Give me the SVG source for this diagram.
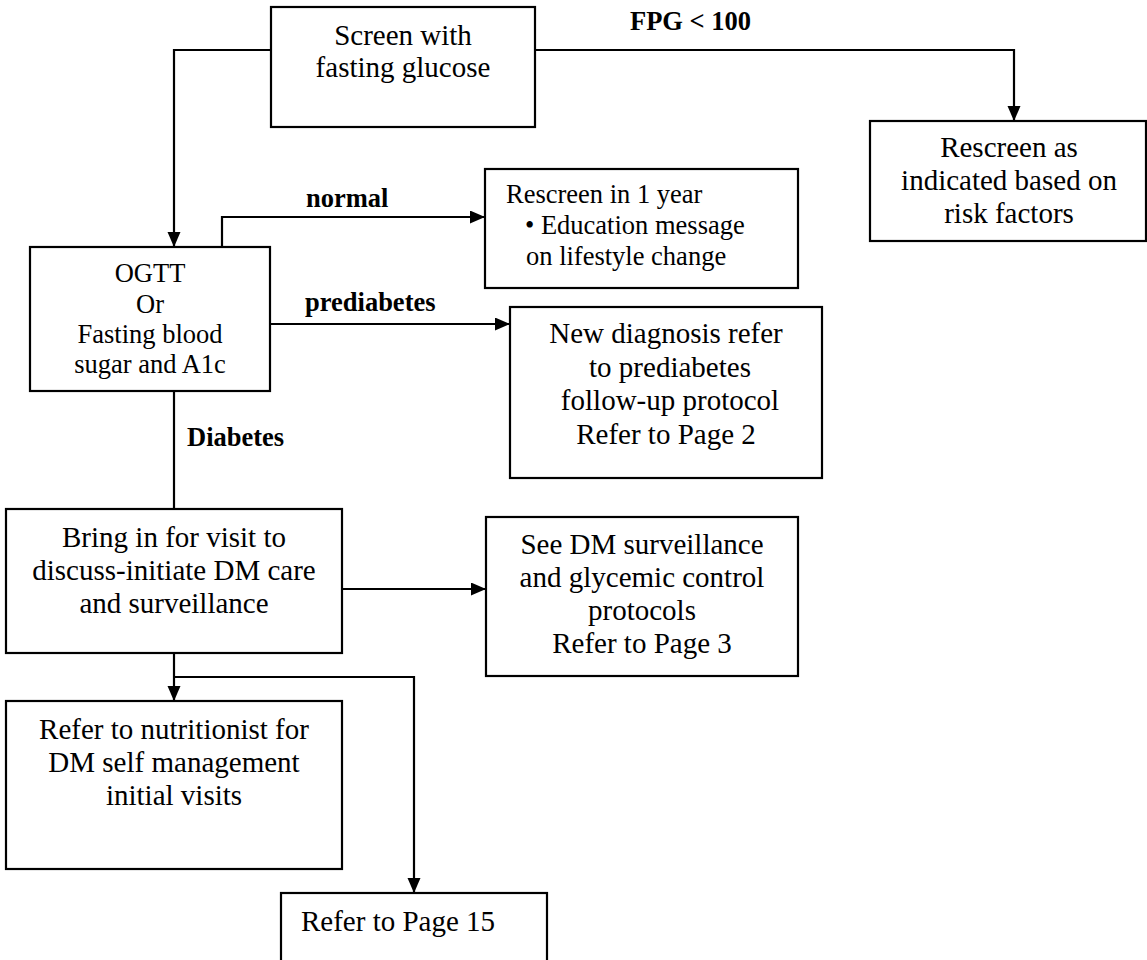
<svg xmlns="http://www.w3.org/2000/svg" width="1147" height="960" viewBox="0 0 1147 960">
  <style>
    .box { fill: #fff; stroke: #000; stroke-width: 2.2; }
    .t { font-family: "Liberation Serif", "Times New Roman", serif; font-size: 29px; fill: #000; text-anchor: middle; }
    .s { font-size: 26.5px; }
    .l { text-anchor: start; }
    .lbl { font-family: "Liberation Serif", "Times New Roman", serif; font-size: 26.5px; font-weight: bold; fill: #000; }
    .c { fill: none; stroke: #000; stroke-width: 2.2; }
  </style>
  <defs>
    <marker id="arrow" markerUnits="userSpaceOnUse" markerWidth="16" markerHeight="14" refX="15" refY="6.5" orient="auto">
      <path d="M0,0 L15,6.5 L0,13 z" fill="#000"/>
    </marker>
  </defs>

  <rect width="1147" height="960" fill="#fff"/>

  <!-- connectors -->
  <g id="connectors">
    <path class="c" d="M535,50 H1014 V121" marker-end="url(#arrow)"/>
    <path class="c" d="M271,50 H174 V247" marker-end="url(#arrow)"/>
    <path class="c" d="M222,247 V217 H485" marker-end="url(#arrow)"/>
    <path class="c" d="M270,324 H510" marker-end="url(#arrow)"/>
    <path class="c" d="M174,391 V509"/>
    <path class="c" d="M342,589 H486" marker-end="url(#arrow)"/>
    <path class="c" d="M174,653 V701" marker-end="url(#arrow)"/>
    <path class="c" d="M174,677 H414 V893" marker-end="url(#arrow)"/>
  </g>

  <!-- connector labels -->
  <g id="labels">
    <text class="lbl" x="630" y="30">FPG &lt; 100</text>
    <text class="lbl" x="306" y="207">normal</text>
    <text class="lbl" x="305" y="311">prediabetes</text>
    <text class="lbl" x="187" y="446">Diabetes</text>
  </g>

  <g id="screen">
    <rect class="box" x="271" y="7" width="264" height="120"/>
    <text class="t" x="403" y="45">Screen with</text>
    <text class="t" x="403" y="77">fasting glucose</text>
  </g>

  <g id="rescreen-risk">
    <rect class="box" x="870" y="121" width="276" height="120"/>
    <text class="t" x="1009" y="157">Rescreen as</text>
    <text class="t" x="1009" y="190">indicated based on</text>
    <text class="t" x="1009" y="223">risk factors</text>
  </g>

  <g id="ogtt">
    <rect class="box" x="30" y="247" width="240" height="144"/>
    <text class="t s" x="150" y="282">OGTT</text>
    <text class="t s" x="150" y="313">Or</text>
    <text class="t s" x="150" y="343">Fasting blood</text>
    <text class="t s" x="150" y="373">sugar and A1c</text>
  </g>

  <g id="rescreen-year">
    <rect class="box" x="485" y="169" width="313" height="119"/>
    <text class="t s l" x="506" y="203">Rescreen in 1 year</text>
    <text class="t s l" x="525" y="234">• Education message</text>
    <text class="t s l" x="526" y="265">on lifestyle change</text>
  </g>

  <g id="prediabetes-referral">
    <rect class="box" x="510" y="307" width="312" height="171"/>
    <text class="t" x="666" y="343">New diagnosis refer</text>
    <text class="t" x="670" y="377">to prediabetes</text>
    <text class="t" x="670" y="410">follow-up protocol</text>
    <text class="t" x="666" y="444">Refer to Page 2</text>
  </g>

  <g id="initiate-care">
    <rect class="box" x="6" y="509" width="336" height="144"/>
    <text class="t" x="174" y="547">Bring in for visit to</text>
    <text class="t" x="174" y="580">discuss-initiate DM care</text>
    <text class="t" x="174" y="613">and surveillance</text>
  </g>

  <g id="surveillance">
    <rect class="box" x="486" y="517" width="312" height="159"/>
    <text class="t" x="642" y="554">See DM surveillance</text>
    <text class="t" x="642" y="587">and glycemic control</text>
    <text class="t" x="642" y="620">protocols</text>
    <text class="t" x="642" y="653">Refer to Page 3</text>
  </g>

  <g id="nutritionist">
    <rect class="box" x="6" y="701" width="336" height="168"/>
    <text class="t" x="174" y="739">Refer to nutritionist for</text>
    <text class="t" x="174" y="772">DM self management</text>
    <text class="t" x="174" y="805">initial visits</text>
  </g>

  <g id="page15">
    <rect class="box" x="281" y="893" width="266" height="80"/>
    <text class="t l" x="301" y="931">Refer to Page 15</text>
  </g>
</svg>
